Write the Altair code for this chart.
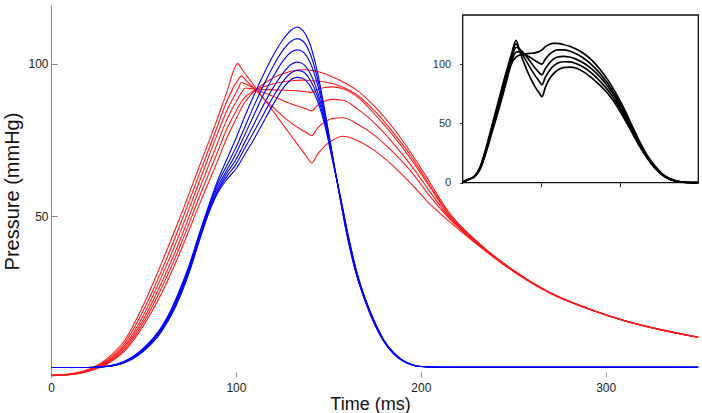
import altair as alt
import pandas as pd

# ---- main panel: aortic (red) and ventricular (blue) pressure traces ----
RED_T = [0, 10, 20, 30, 40, 50, 60, 70, 80, 90, 95, 101, 103, 105, 108, 112, 116, 120, 125, 130,
         135, 138, 141, 144, 148, 152, 158, 165, 175, 185, 195, 205, 215, 230, 250, 270, 290, 310, 330, 350]
RED_1 = [-2.0, -1.6, -0.2, 3.2, 9.5, 21, 35, 50, 66, 82, 90.5, 100, 98.4, 96.7, 94.3, 91, 87.8, 84.5, 80.4, 76.3,
         72.2, 69.8, 67.4, 70.2, 73, 74.8, 76.2, 75, 71.5, 66.5, 60.5, 54, 48.5, 41, 32, 24.8, 19.8, 15.8, 12.8, 10.4]
RED_2 = [-2.0, -1.7, -0.4, 2.7, 8.6, 19.2, 32.5, 47.5, 63.5, 79.5, 87.5, 94.5, 96, 94.8, 93, 90.5, 88, 85.8, 83, 80.5,
         78.5, 77.5, 76.4, 78.8, 80.8, 82, 82.3, 80.5, 76.5, 71, 64.5, 56.5, 49.5, 41.2, 32, 24.8, 19.8, 15.8, 12.8, 10.4]
RED_3 = [-2.1, -1.8, -0.5, 2.3, 7.8, 17.6, 30.5, 45, 61, 77, 84.5, 91.5, 93.8, 93.4, 92.5, 91.3, 90.3, 89.3, 88, 86.8,
         85.8, 85.2, 84.5, 86.3, 87.7, 88.3, 88, 85.5, 80.5, 74, 66.5, 58, 50, 41.4, 32.1, 24.9, 19.8, 15.8, 12.8, 10.4]
RED_4 = [-2.1, -1.8, -0.6, 2.0, 7.2, 16.3, 28.5, 42.5, 58.5, 74, 81.5, 88.5, 90.5, 92, 91.8, 91.6, 91.5, 91.4, 91.3, 91.2,
         91, 90.8, 90.5, 91.5, 92.2, 92.4, 91.8, 89.5, 83.5, 76.5, 68.5, 59.5, 50.5, 41.6, 32.2, 24.9, 19.9, 15.8, 12.8, 10.4]
RED_5 = [-2.2, -1.9, -0.7, 1.8, 6.6, 15.2, 26.8, 40.5, 56, 71, 78.5, 85.5, 87.5, 89, 90.5, 91.8, 92.6, 93.3, 94, 94.4,
         94.6, 94.6, 94.4, 94.3, 94, 93.5, 92.3, 90, 84.5, 77.5, 69.5, 60, 51, 41.8, 32.3, 25, 19.9, 15.9, 12.9, 10.5]
RED_6 = [-2.2, -1.9, -0.8, 1.5, 6.0, 14.2, 25, 38.5, 53.5, 68, 75.5, 83, 85.5, 87.5, 89.8, 92, 93.8, 95.3, 96.6, 97.5,
         98, 98, 97.8, 97.4, 96.7, 95.7, 94, 91.5, 86, 79, 70.5, 61, 51.5, 42, 32.4, 25, 20, 15.9, 12.9, 10.5]

BLUE_T = [0, 20, 30, 40, 50, 60, 65, 70, 75, 80, 85, 90, 95, 100, 105, 110, 115, 120, 125, 130,
          133, 136, 140, 144, 148, 152, 156, 160, 165, 170, 175, 180, 185, 190, 195, 200, 210, 350]
BLUE_1 = [0.5, 0.5, 0.9, 2.6, 6.8, 14, 19.5, 26.5, 34.5, 44, 53, 61.5, 68.5, 75.5, 83, 90, 96.5, 102.5, 107.5, 111,
          112, 111, 106.5, 97.5, 85, 71, 57, 44, 31.2, 22, 14.6, 9, 5.1, 2.7, 1.4, 0.8, 0.55, 0.55]
BLUE_2 = [0.5, 0.5, 0.9, 2.5, 6.6, 13.7, 19.1, 26, 34, 43.5, 52.5, 60.5, 66.5, 72.5, 79.5, 86.5, 93, 99, 104, 107.4,
          108.2, 107.5, 103.5, 95.5, 84, 70.6, 57.2, 44.4, 31.5, 22.2, 14.8, 9.1, 5.2, 2.8, 1.4, 0.8, 0.55, 0.55]
BLUE_3 = [0.5, 0.5, 0.85, 2.4, 6.4, 13.4, 18.7, 25.5, 33.5, 43, 52, 59.5, 65, 70.5, 77, 83.5, 90, 95.5, 100.5, 103.8,
          104.5, 104, 100.5, 93.5, 83, 70.2, 57.4, 44.8, 31.8, 22.4, 15, 9.2, 5.3, 2.8, 1.4, 0.8, 0.55, 0.55]
BLUE_4 = [0.5, 0.5, 0.8, 2.3, 6.2, 13.1, 18.3, 25, 33, 42.5, 51.5, 58.5, 64, 68.5, 74.5, 80.5, 86.5, 92, 96.5, 99.8,
          100.5, 100, 97, 91, 82, 69.8, 57.6, 45.2, 32.1, 22.6, 15.2, 9.3, 5.4, 2.9, 1.5, 0.8, 0.55, 0.55]
BLUE_5 = [0.5, 0.5, 0.8, 2.2, 6.0, 12.8, 17.9, 24.5, 32.5, 42, 51, 58, 63, 67, 72.5, 78, 83.5, 89, 93.8, 97,
          97.8, 97.4, 94.8, 89.5, 81, 69.4, 57.8, 45.6, 32.4, 22.8, 15.4, 9.4, 5.5, 2.9, 1.5, 0.8, 0.55, 0.55]
BLUE_6 = [0.5, 0.5, 0.8, 2.1, 5.8, 12.5, 17.5, 24, 32, 41.5, 50.5, 57.5, 62, 65.5, 70.5, 75.5, 81, 86.5, 91.5, 94.8,
          95.5, 95.2, 92.8, 88, 80, 69, 58, 46, 32.7, 23, 15.6, 9.5, 5.6, 3, 1.5, 0.8, 0.55, 0.55]

# ---- inset: measured pressure traces ----
INSET_T = [0, 8, 15, 22, 30, 38, 46, 54, 62, 68, 72, 78, 85, 92, 97, 101, 105, 110, 115, 120,
           128, 136, 145, 155, 165, 175, 185, 195, 205, 215, 225, 235, 245, 255, 265, 275, 285, 300]
INSET_1 = [0.5, 3, 5.5, 13, 30, 50, 70, 90, 108, 120, 112, 101, 90, 81, 76, 72.5, 80, 87, 91.5, 94.5,
           97, 97.5, 96.5, 93, 88, 82, 75, 66, 55, 43, 31, 20.5, 12, 6, 2.5, 0.8, 0.2, 0]
INSET_2 = [0.5, 3, 5.4, 12.5, 29, 48.5, 68, 88, 106.5, 117, 113, 106, 98, 90.5, 86, 82.5, 88.5, 94, 98, 100.5,
           102, 101.8, 100.3, 97, 92, 85.5, 78, 68.5, 57, 44.5, 32, 21, 12.5, 6.3, 2.6, 0.9, 0.3, 0]
INSET_3 = [0.5, 3, 5.3, 12, 28, 47, 66, 86, 104.5, 114, 113, 109, 103, 97, 93, 91, 96, 100.5, 104, 105.8,
           106.5, 106, 104, 100.5, 95.5, 89, 81, 71, 59, 46, 33, 21.5, 13, 6.5, 2.7, 0.9, 0.3, 0]
INSET_4 = [0.5, 3, 5.2, 11.5, 27, 45.5, 64, 83.5, 102, 110, 110.5, 108.5, 106, 103, 101, 100, 104, 108, 110.5, 112,
           112, 111, 108.5, 104.5, 99, 92, 83.5, 73, 61, 47.5, 34, 22, 13.3, 6.7, 2.8, 1.0, 0.3, 0]
INSET_5 = [0.5, 3, 5.1, 11, 26, 44, 62, 81, 100, 106, 107.5, 108.5, 109, 109.5, 110.5, 112, 114.5, 116.5, 117.5, 117.5,
           116.5, 115, 112.5, 108.5, 103, 95.5, 86.5, 75.5, 63, 49, 35, 23, 14, 7, 3, 1.0, 0.3, 0]

MAIN_X_TICKS = [0, 100, 200, 300]
MAIN_Y_TICKS = [50, 100]
INSET_X_TICKS = [100, 200]
INSET_Y_TICKS = [0, 50, 100]

FONT = "Liberation Sans"
W, H = 649, 372


def long_frame(times, series, prefix):
    rows = []
    for i, vals in enumerate(series, 1):
        for t, p in zip(times, vals):
            rows.append({"t": t, "p": p, "run": f"{prefix}{i}"})
    return pd.DataFrame(rows)


red_df = long_frame(RED_T, [RED_1, RED_2, RED_3, RED_4, RED_5, RED_6], "r")
blue_df = long_frame(BLUE_T, [BLUE_1, BLUE_2, BLUE_3, BLUE_4, BLUE_5, BLUE_6], "b")
inset_df = long_frame(INSET_T, [INSET_1, INSET_2, INSET_3, INSET_4, INSET_5], "k")
frame_df = pd.DataFrame([{"t0": 0, "t1": 300, "p0": 0, "p1": 141.4}])

x_main = alt.Scale(domain=[0, 351], nice=False, zero=False)
y_main = alt.Scale(domain=[-2.62, 119.2], nice=False, zero=False)

# labelled axes (no tick marks; ticks are drawn inward by a second axis)
red = alt.Chart(red_df).mark_line(color="#ff1a1a", strokeWidth=1.1, interpolate="monotone").encode(
    x=alt.X("t:Q", scale=x_main, axis=alt.Axis(
        orient="bottom", values=MAIN_X_TICKS, tickSize=0, domain=False, grid=False,
        labelPadding=5, labelFontSize=12, labelColor="#222", labelFlush=False,
        title="Time (ms)", titleFontSize=18, titleFontWeight="normal", titleColor="#111",
        titleX=W / 2 - 5.5, titleY=36, titleBaseline="bottom", titleAlign="center")),
    y=alt.Y("p:Q", scale=y_main, axis=alt.Axis(
        orient="left", values=MAIN_Y_TICKS, tickSize=0, domain=True, domainColor="#888",
        domainWidth=1, grid=False, labelPadding=3, labelFontSize=12, labelColor="#222",
        labelFlush=False, title="Pressure (mmHg)", titleFontSize=20, titleFontWeight="normal",
        titleColor="#111", titleAngle=270, titleX=-29, titleY=H / 2,
        titleBaseline="bottom", titleAlign="center")),
    detail="run:N",
)

# inward-pointing tick marks
blue = alt.Chart(blue_df).mark_line(color="#0000ff", strokeWidth=1.1, interpolate="monotone").encode(
    x=alt.X("t:Q", scale=x_main, axis=alt.Axis(
        orient="top", offset=-H, values=[100, 200, 300], tickSize=5, tickColor="#999",
        labels=False, domain=False, grid=False, title="")),
    y=alt.Y("p:Q", scale=y_main, axis=alt.Axis(
        orient="right", offset=-W, values=MAIN_Y_TICKS, tickSize=6, tickColor="#888",
        labels=False, domain=False, grid=False, title="")),
    detail="run:N",
)

main = alt.layer(red, blue).resolve_axis(x="independent", y="independent")

# inset panel placed in the upper right of the plot area
x_in = alt.Scale(domain=[0, 300], range=[411.7, 647.3], nice=False, zero=False)
y_in = alt.Scale(domain=[0, 141.4], range=[177.7, 10], nice=False, zero=False)
x_in_axis = alt.Axis(orient="bottom", offset=-(H - 177.7), values=INSET_X_TICKS, tickSize=4,
                     tickColor="#222", labels=False, domain=False, grid=False, title="")
y_in_axis = alt.Axis(orient="left", offset=-411.7, values=INSET_Y_TICKS, tickSize=3,
                     tickColor="#222", labelPadding=9, labelFontSize=11, labelColor="#333",
                     labelFlush=False, domain=False, grid=False, title="")

frame = alt.Chart(frame_df).mark_rect(fill="white", stroke="#111", strokeWidth=1.3).encode(
    x=alt.X("t0:Q", scale=x_in, axis=x_in_axis),
    x2="t1:Q",
    y=alt.Y("p0:Q", scale=y_in, axis=y_in_axis),
    y2="p1:Q",
)
traces = alt.Chart(inset_df).mark_line(color="black", strokeWidth=1.7, interpolate="monotone").encode(
    x=alt.X("t:Q", scale=x_in, axis=x_in_axis),
    y=alt.Y("p:Q", scale=y_in, axis=y_in_axis),
    detail="run:N",
)
inset = alt.layer(frame, traces)

chart = alt.layer(main, inset).resolve_scale(x="independent", y="independent").properties(
    width=W, height=H,
    padding={"left": 51, "top": 5, "right": 2, "bottom": 36},
    autosize=alt.AutoSizeParams(type="none"),
    background="white",
).configure_view(stroke=None).configure_axis(labelFont=FONT, titleFont=FONT)

chart.save("out.html", embed_options={"renderer": "svg", "actions": False})
